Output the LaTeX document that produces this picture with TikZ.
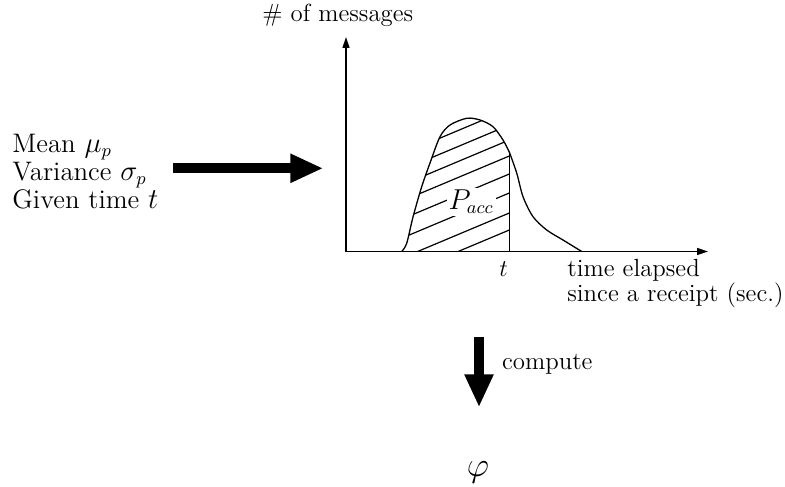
\documentclass[tikz,border=0pt]{standalone}
\usetikzlibrary{arrows.meta}
\begin{document}
\begin{tikzpicture}[x=0.5pt,y=-0.5pt,
  txt/.style={inner sep=0pt, anchor=base west, font=\fontsize{12.4}{14}\selectfont},
  axis/.style={line width=0.75pt, -{Triangle[length=5.5pt,width=3.5pt]}},
  curve/.style={line width=0.65pt, line join=round},
  hatch/.style={line width=0.6pt},
  bigarrow/.style={line width=5pt, -{Triangle[length=16.5pt,width=13.5pt]}}]
\useasboundingbox (0,0) rectangle (785,486);
% left inputs
\node[inner sep=0pt, anchor=north west, align=left,
      font=\fontsize{13.4}{12.4}\selectfont] (inputs) at (12,133.4)
      {Mean $\mu_p$\\Variance $\sigma_p$\\Given time $t$};
% axes
\coordinate (O) at (346,251.5);
\coordinate (ytop) at (346,37);
\coordinate (xend) at (708,251.5);
\draw[axis] (O) -- (ytop);
\draw[axis] (O) -- (xend);
\node[txt] (ylab) at (262,22) {\# of messages};
\node[txt] (tlab) at (499,276) {$t$};
\node[inner sep=0pt, anchor=north west, align=left,
      font=\fontsize{12.4}{10.35}\selectfont] (xlab) at (567,258.6)
      {time elapsed\\since a receipt (sec.)};
% hatching
\begin{scope}
\clip plot[smooth] coordinates {(401.7,251.5) (406.7,243.3) (413,217) (421.7,186.7) (430,163) (440,136.7) (450,125) (466.7,118.3) (480,120) (493,126.7) (503,140) (509.3,152)} -- (509.3,251.5) -- cycle;
\foreach \yy in {230,213,193,174,156,140,125,109}
  \draw[hatch] (380,{\yy+0.42*129.3}) -- (520,{\yy-0.42*10.7});
\end{scope}
% curve
\draw[curve] plot[smooth] coordinates {(401.7,251.5) (406.7,243.3) (413,217) (421.7,186.7) (430,163) (440,136.7) (450,125) (466.7,118.3) (480,120) (493,126.7) (503,140) (509.3,152)};
\draw[curve] plot[smooth] coordinates {(509.3,152) (516.7,173) (523,196.7) (533,216.7) (546.7,230) (563,240) (581.7,251.5)};
\coordinate (tc) at (509.3,152);
\coordinate (tb) at (509.3,251.5);
\draw[curve] (tb) -- (tc);
\node[txt, fill=white, inner sep=1pt, font=\fontsize{13.4}{15}\selectfont] (pacc) at (446.3,209.3) {$P_{acc}$};
% big arrows
\coordinate (r1) at (173,168.3);
\coordinate (r2) at (323.3,168.3);
\draw[bigarrow] (r1) -- (r2);
\coordinate (d1) at (479,336.7);
\coordinate (d2) at (479,407.3);
\draw[bigarrow] (d1) -- (d2);
\node[txt] (comp) at (501.7,369) {compute};
\node[inner sep=0pt, font=\fontsize{17.28}{20}\selectfont] (phi) at (478,472) {$\varphi$};
\end{tikzpicture}
\end{document}
